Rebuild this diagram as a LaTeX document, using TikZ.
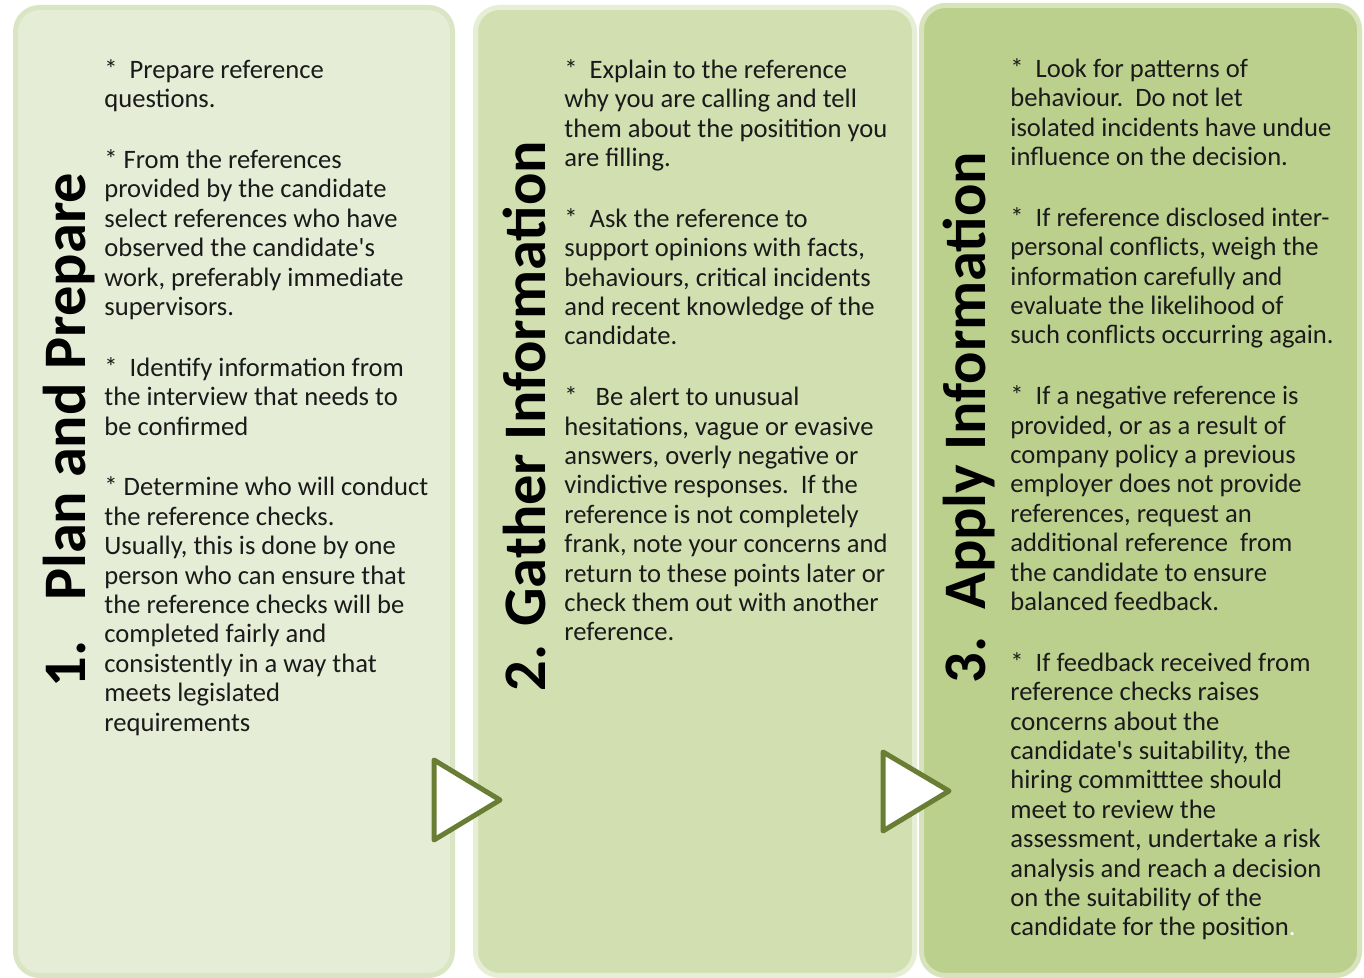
\documentclass[tikz,border=0pt]{standalone}
\usepackage{fontspec}
\setmainfont{Carlito}
\usepackage{tikz}
\usetikzlibrary{positioning}
\definecolor{darktext}   {HTML}{1A1A1A}
\definecolor{planbg}     {HTML}{E6EDD7}
\definecolor{planedge}   {HTML}{DAE6C3}
\definecolor{gatherbg}   {HTML}{D2DFB1}
\definecolor{gatheredge} {HTML}{E6EED6}
\definecolor{applybg}    {HTML}{BCD08E}
\definecolor{applyedge}  {HTML}{D6E3BB}
\definecolor{arrowedge}  {HTML}{6A7D34}
\tikzset{
  panel/.style={line width=2.5pt,rounded corners=12pt},
  phasetitle/.style={rotate=90,anchor=base west,inner sep=0pt,text=black,
    font=\fontsize{30.2}{36}\selectfont\bfseries},
  phasetext/.style={anchor=north west,inner sep=0pt,align=left,text=darktext,
    font=\fontsize{13.3}{14.7}\selectfont},
  nexttri/.style={draw=arrowedge,fill=white,line width=2.5pt,line join=round}
}
\newcommand\gap{\\[15.7pt]}
\newcommand\firstline{\rule{0pt}{11pt}}
\newcommand\apos{\textquotesingle}

\begin{document}
\begin{tikzpicture}[x=0.5pt,y=0.5pt]
\useasboundingbox (0,0) rectangle (1364,978);
\fill[white] (0,0) rectangle (1364,978);
% the three phase panels
\filldraw[panel,fill=planbg,draw=planedge] (15.5,2.5) rectangle (452.5,970.5);
\filldraw[panel,fill=gatherbg,draw=gatheredge] (475.5,2.5) rectangle (914.5,970.5);
\filldraw[panel,fill=applybg,draw=applyedge] (921.5,2.5) rectangle (1359.5,972.5);
% arrows between panels
\filldraw[nexttri] (434,218) -- (434,138) -- (500,178) -- cycle;
\filldraw[nexttri] (883,226) -- (883,147) -- (949,187) -- cycle;
% titles
\node[phasetitle] (plan)   at (85,290)  {1.\hspace{20pt}Plan and Prepare};
\node[phasetitle] (gather) at (545,286) {2. Gather Information};
\node[phasetitle] (apply)  at (985,294) {3.\ \ Apply Information};
% phase 1
\node[phasetext] (plantext) at (104,922) {%
\firstline*~~Prepare reference\\
questions.\gap
* From the references\\
provided by the candidate\\
select references who have\\
observed the candidate\apos s\\
work, preferably immediate\\
supervisors.\gap
*~~Identify information from\\
the interview that needs to\\
be confirmed\gap
* Determine who will conduct\\
the reference checks.\\
Usually, this is done by one\\
person who can ensure that\\
the reference checks will be\\
completed fairly and\\
consistently in a way that\\
meets legislated\\
requirements};
% phase 2
\node[phasetext] (gathertext) at (564,922) {%
\firstline*~~Explain to the reference\\
why you are calling and tell\\
them about the positition you\\
are filling.\gap
*~~Ask the reference to\\
support opinions with facts,\\
behaviours, critical incidents\\
and recent knowledge of the\\
candidate.\gap
*~~~Be alert to unusual\\
hesitations, vague or evasive\\
answers, overly negative or\\
vindictive responses.~~If the\\
reference is not completely\\
frank, note your concerns and\\
return to these points later or\\
check them out with another\\
reference.};
% phase 3
\node[phasetext] (applytext) at (1010,923) {%
\firstline*~~Look for patterns of\\
behaviour.~~Do not let\\
isolated incidents have undue\\
influence on the decision.\gap
*~~If reference disclosed inter-\\
personal conflicts, weigh the\\
information carefully and\\
evaluate the likelihood of\\
such conflicts occurring again.\gap
*~~If a negative reference is\\
provided, or as a result of\\
company policy a previous\\
employer does not provide\\
references, request an\\
additional reference~~from\\
the candidate to ensure\\
balanced feedback.\gap
*~~If feedback received from\\
reference checks raises\\
concerns about the\\
candidate\apos s suitability, the\\
hiring committtee should\\
meet to review the\\
assessment, undertake a risk\\
analysis and reach a decision\\
on the suitability of the\\
candidate for the position{\color{white}.}};
\end{tikzpicture}
\end{document}
